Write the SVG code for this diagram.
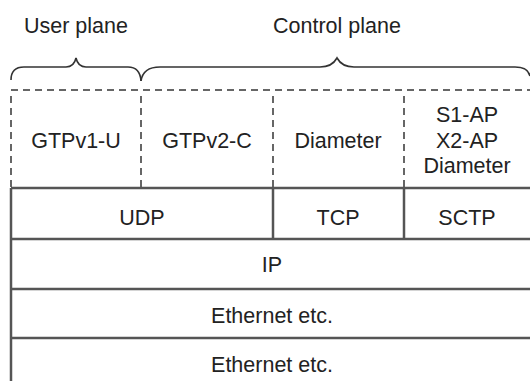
<svg xmlns="http://www.w3.org/2000/svg" width="530" height="381" viewBox="0 0 530 381">
<style>
text{font-family:"Liberation Sans",Arial,sans-serif;font-size:21.5px;fill:#222;text-anchor:middle}
.s{stroke:#555;stroke-width:2.5;fill:none}
.d{stroke:#666;stroke-width:2;fill:none;stroke-dasharray:7,5}
.b{stroke:#333;stroke-width:1.6;fill:none}
</style>
<rect width="530" height="381" fill="#fff"/>
<g id="labels">
<text x="76" y="33">User plane</text>
<text x="337" y="33">Control plane</text>
</g>
<g id="braces">
<path class="b" d="M11,80 Q11,67 24,67 L66,67 Q74,67 76,58 Q78,67 86,67 L128,67 Q140,67 141,81"/>
<path class="b" d="M141,81 Q143,67 160,67 L320,67 Q332,67 337,58 Q342,67 354,67 L515,67 Q528,67 530,76"/>
</g>
<g id="connectors">
<line class="d" x1="11" y1="90" x2="530" y2="90"/>
<line class="d" x1="11" y1="96" x2="11" y2="188"/>
<line class="d" x1="141" y1="96" x2="141" y2="188"/>
<line class="d" x1="273" y1="96" x2="273" y2="188"/>
<line class="d" x1="404" y1="96" x2="404" y2="188"/>
<line class="s" x1="11" y1="188" x2="11" y2="381"/>
<line class="s" x1="11" y1="188" x2="530" y2="188"/>
<line class="s" x1="11" y1="239" x2="530" y2="239"/>
<line class="s" x1="11" y1="289" x2="530" y2="289"/>
<line class="s" x1="11" y1="338" x2="530" y2="338"/>
<line class="s" x1="273" y1="188" x2="273" y2="239"/>
<line class="s" x1="404" y1="188" x2="404" y2="239"/>
</g>
<g id="gtpv1u"><text x="76" y="148">GTPv1-U</text></g>
<g id="gtpv2c"><text x="207" y="148">GTPv2-C</text></g>
<g id="diameter"><text x="338" y="148">Diameter</text></g>
<g id="ap"><text x="467" y="122">S1-AP</text><text x="467" y="148">X2-AP</text><text x="467" y="173">Diameter</text></g>
<g id="udp"><text x="142" y="225">UDP</text></g>
<g id="tcp"><text x="338" y="225">TCP</text></g>
<g id="sctp"><text x="467" y="225">SCTP</text></g>
<g id="ip"><text x="272" y="272">IP</text></g>
<g id="eth1"><text x="272" y="323">Ethernet etc.</text></g>
<g id="eth2"><text x="272" y="372">Ethernet etc.</text></g>
</svg>
